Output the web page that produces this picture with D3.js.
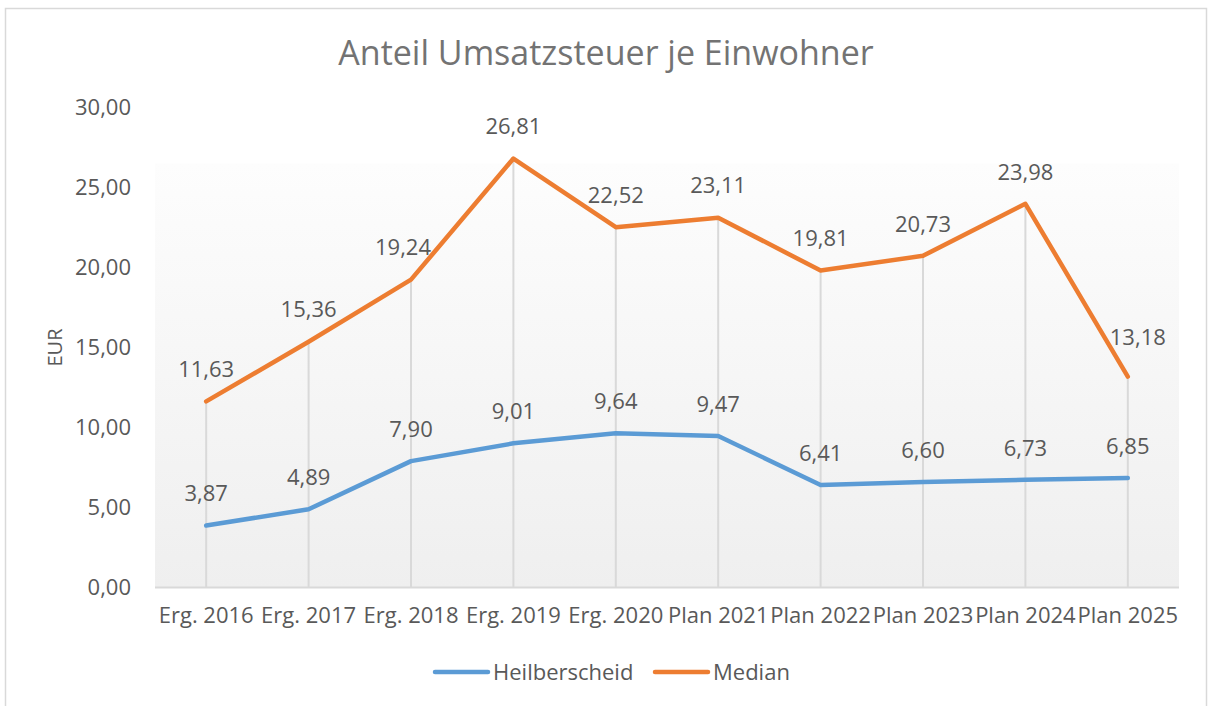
<!DOCTYPE html>
<html>
<head>
<meta charset="utf-8">
<script src="https://cdn.jsdelivr.net/npm/d3@7"></script>
<style>
  body { margin: 0; background: #fff; }
  text { font-family: "Open Sans", sans-serif; fill: #595959; }
</style>
</head>
<body>
<div id="chart"></div>
<script>
// Chart data
const categories = ['Erg. 2016', 'Erg. 2017', 'Erg. 2018', 'Erg. 2019', 'Erg. 2020',
    'Plan 2021', 'Plan 2022', 'Plan 2023', 'Plan 2024', 'Plan 2025'];
const heilberscheid = [3.87, 4.89, 7.90, 9.01, 9.64, 9.47, 6.41, 6.60, 6.73, 6.85];
const median = [11.63, 15.36, 19.24, 26.81, 22.52, 23.11, 19.81, 20.73, 23.98, 13.18];
const yTicks = [0, 5, 10, 15, 20, 25, 30];
const seriesNames = ['Heilberscheid', 'Median'];
const seriesColors = ['#5b9bd5', '#ed7d31'];

const W = 1208, H = 706;
const margin = { top: 107.5, right: 29, bottom: 118.5, left: 155 };
const width = W - margin.left - margin.right;
const height = H - margin.top - margin.bottom;

const fmt = v => v.toFixed(2).replace('.', ',');

const svgRoot = d3.select('#chart').append('svg')
    .attr('width', W)
    .attr('height', H);

// Outer chart border
svgRoot.append('rect')
    .attr('x', 5.5).attr('y', 8.5)
    .attr('width', 1201).attr('height', 720)
    .attr('fill', '#fff')
    .attr('stroke', '#d9d9d9')
    .attr('stroke-width', 1.5);

// Plot area gradient
const defs = svgRoot.append('defs');
const grad = defs.append('linearGradient')
    .attr('id', 'plotGrad')
    .attr('x1', 0).attr('y1', 0).attr('x2', 0).attr('y2', 1);
grad.append('stop').attr('offset', '0%').attr('stop-color', '#fdfdfd');
grad.append('stop').attr('offset', '100%').attr('stop-color', '#efefef');

const svg = svgRoot.append('g')
    .attr('transform', `translate(${margin.left}, ${margin.top})`);

const x = d3.scaleBand()
    .domain(categories)
    .range([0, width]);

const y = d3.scaleLinear()
    .domain([0, 30])
    .range([height, 0]);

const cx = d => x(d) + x.bandwidth() / 2;

svg.append('rect')
    .attr('x', 0)
    .attr('y', y(26.5))
    .attr('width', width)
    .attr('height', height - y(26.5))
    .attr('fill', 'url(#plotGrad)');

// Title
svgRoot.append('text')
    .attr('x', 606)
    .attr('y', 65)
    .attr('text-anchor', 'middle')
    .style('font-size', '34px')
    .style('fill', '#737373')
    .text('Anteil Umsatzsteuer je Einwohner');

// Y axis
const yAxis = svg.append('g')
    .call(d3.axisLeft(y).tickValues(yTicks).tickFormat(fmt).tickSize(0).tickPadding(24));
yAxis.select('.domain').remove();
yAxis.selectAll('text')
    .style('font-size', '22px')
    .style('font-family', '"Open Sans", sans-serif')
    .attr('fill', '#595959');

// Axis title
svgRoot.append('text')
    .attr('transform', `translate(62, ${margin.top + y(15)}) rotate(-90)`)
    .attr('text-anchor', 'middle')
    .style('font-size', '20px')
    .text('EUR');

// Drop lines
svg.selectAll('.drop-line')
    .data(categories)
    .enter().append('line')
    .attr('class', 'drop-line')
    .attr('x1', d => cx(d)).attr('x2', d => cx(d))
    .attr('y1', (d, i) => y(Math.max(heilberscheid[i], median[i])))
    .attr('y2', y(0))
    .attr('stroke', '#d9d9d9')
    .attr('stroke-width', 2);

// Baseline
svg.append('line')
    .attr('x1', 0).attr('x2', width)
    .attr('y1', y(0)).attr('y2', y(0))
    .attr('stroke', '#d9d9d9')
    .attr('stroke-width', 2);

// X axis labels
const xAxis = svg.append('g')
    .attr('transform', `translate(0, ${height})`)
    .call(d3.axisBottom(x).tickSize(0).tickPadding(20));
xAxis.select('.domain').remove();
xAxis.selectAll('text')
    .style('font-size', '22px')
    .style('font-family', '"Open Sans", sans-serif')
    .attr('fill', '#595959');

// Lines + labels
const line = d3.line()
    .x((d, i) => cx(categories[i]))
    .y(d => y(d));

// Excel nudged a couple of labels away from the line
function nudge(s, i) {
    if (s === 1 && i === 2) return [-8, 0];
    if (s === 1 && i === 9) return [10, -7];
    return [0, 0];
}

[heilberscheid, median].forEach((values, s) => {
    svg.append('path')
        .datum(values)
        .attr('fill', 'none')
        .attr('stroke', seriesColors[s])
        .attr('stroke-width', 4.5)
        .attr('stroke-linejoin', 'round')
        .attr('stroke-linecap', 'round')
        .attr('d', line);

    svg.selectAll('.label-' + s)
        .data(values)
        .enter().append('text')
        .attr('class', 'label-' + s)
        .attr('x', (d, i) => cx(categories[i]) + nudge(s, i)[0])
        .attr('y', (d, i) => y(d) - 32 + nudge(s, i)[1])
        .attr('dy', '0.35em')
        .attr('text-anchor', 'middle')
        .style('font-size', '22px')
        .text(d => fmt(d));
});

// Legend
const legend = svgRoot.append('g');
const legendItems = [
    { name: seriesNames[0], color: seriesColors[0], x: 435 },
    { name: seriesNames[1], color: seriesColors[1], x: 655 }
];
legendItems.forEach(item => {
    legend.append('line')
        .attr('x1', item.x).attr('x2', item.x + 53)
        .attr('y1', 672).attr('y2', 672)
        .attr('stroke', item.color)
        .attr('stroke-width', 4.5)
        .attr('stroke-linecap', 'round');
    legend.append('text')
        .attr('x', item.x + 58)
        .attr('y', 672)
        .attr('dy', '0.35em')
        .style('font-size', '22px')
        .text(item.name);
});
</script>
</body>
</html>
